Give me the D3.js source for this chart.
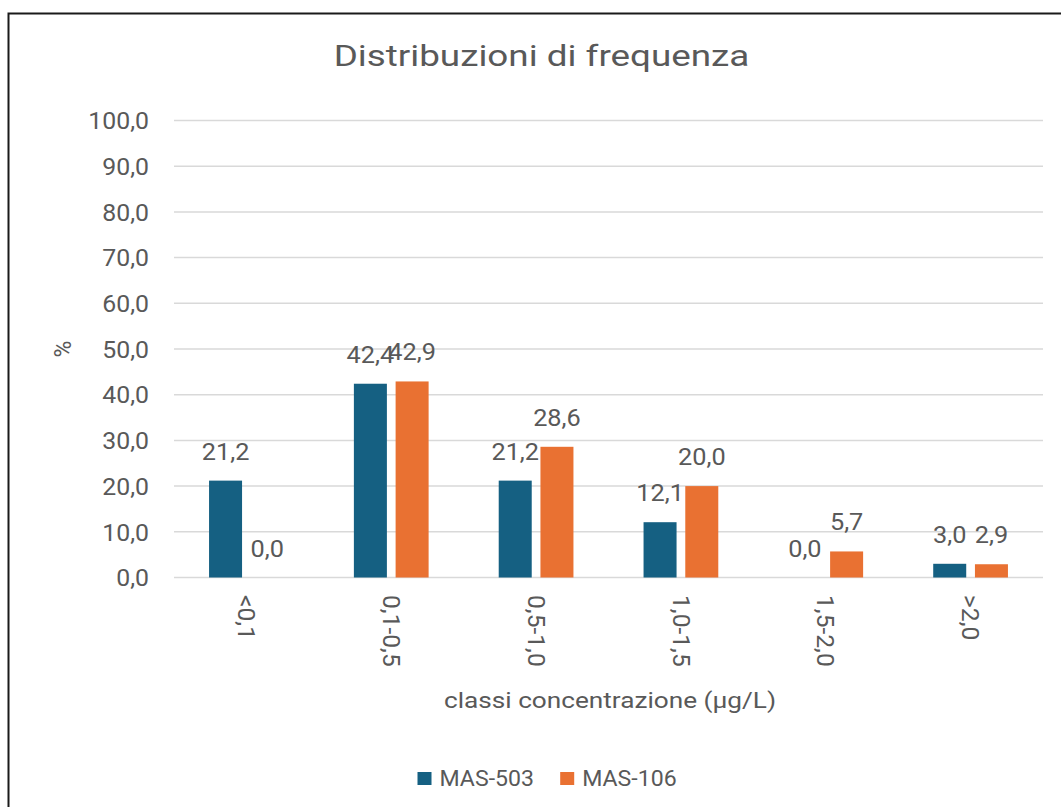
<!DOCTYPE html>
<html>
<head>
<meta charset="utf-8">
<script src="https://cdn.jsdelivr.net/npm/d3@7/dist/d3.min.js"></script>
<style>
  html, body { margin: 0; padding: 0; background: #fff; }
  svg { display: block; }
  text { font-family: Roboto, "Noto Sans", sans-serif; fill: #595959; }
</style>
</head>
<body>
<svg id="chart" width="1061" height="807"></svg>
<script>
// Frequency distribution of concentration classes for two samplers
const categories = ["<0,1", "0,1-0,5", "0,5-1,0", "1,0-1,5", "1,5-2,0", ">2,0"];
const seriesNames = ["MAS-503", "MAS-106"];
const mas503 = [21.2, 42.4, 21.2, 12.1, 0.0, 3.0];
const mas106 = [0.0, 42.9, 28.6, 20.0, 5.7, 2.9];
const yTicks = [0, 10, 20, 30, 40, 50, 60, 70, 80, 90, 100];
const colors = ["#156082", "#E97132"];

const seriesValues = [mas503, mas106];
const fmt = v => v.toFixed(1).replace(".", ",");

const svg = d3.select("#chart");
const W = 1061, H = 807;

svg.append("rect").attr("width", W).attr("height", H).attr("fill", "#fff");

// chart area frame
svg.append("rect")
  .attr("x", 8.5).attr("y", 13.5)
  .attr("width", 1200).attr("height", 1000)
  .attr("fill", "none").attr("stroke", "#1a1a1a").attr("stroke-width", 2);

const plot = { left: 174, right: 1043, top: 120.5, bottom: 577.5 };

const y = d3.scaleLinear().domain([0, 100]).range([plot.bottom, plot.top]);
const x0 = d3.scaleBand().domain(categories)
  .range([plot.left, plot.right])
  .paddingInner(0.484).paddingOuter(0.242);
const x1 = d3.scaleBand().domain(seriesNames)
  .range([0, x0.bandwidth()])
  .paddingInner(0.209);

// horizontal gridlines
svg.append("g").selectAll("line").data(yTicks).join("line")
  .attr("x1", plot.left).attr("x2", plot.right)
  .attr("y1", d => y(d)).attr("y2", d => y(d))
  .attr("stroke", "#d9d9d9").attr("stroke-width", 1.5);

// y axis labels (slightly widened type)
const yAxis = d3.axisLeft(y).tickValues(yTicks).tickFormat(fmt).tickSize(0).tickPadding(0);
const gy = svg.append("g").attr("transform", `translate(149,0)`).call(yAxis);
gy.select(".domain").remove();
gy.selectAll("text")
  .attr("x", 0).attr("dy", "0.36em")
  .attr("transform", "scale(1.08,1)")
  .attr("font-size", 23).attr("fill", "#595959")
  .style("font-family", "Roboto, sans-serif");

// bars
const rows = categories.map((c, i) => ({ c, vals: seriesNames.map((s, j) => ({ s, j, v: seriesValues[j][i] })) }));
const groups = svg.append("g").selectAll("g").data(rows).join("g")
  .attr("transform", d => `translate(${x0(d.c)},0)`);

groups.selectAll("rect").data(d => d.vals).join("rect")
  .attr("x", d => x1(d.s))
  .attr("width", x1.bandwidth())
  .attr("y", d => y(d.v))
  .attr("height", d => y(0) - y(d.v))
  .attr("fill", d => colors[d.j]);

// value labels above each bar
groups.selectAll("text").data(d => d.vals).join("text")
  .attr("transform", d => `translate(${x1(d.s) + x1.bandwidth() / 2},${y(d.v) - 21}) scale(1.1,1)`)
  .attr("text-anchor", "middle")
  .attr("font-size", 23)
  .attr("fill", "#4a4a4a")
  .text(d => fmt(d.v));

// category labels, rotated to read downward
const xAxis = d3.axisBottom(x0).tickSize(0).tickPadding(0);
const gx = svg.append("g").attr("transform", `translate(0,${plot.bottom})`).call(xAxis);
gx.select(".domain").remove();
gx.selectAll("text")
  .attr("transform", "translate(0,17.5) rotate(90) scale(1.07,1)")
  .attr("x", 0).attr("y", 0).attr("dy", "0.36em")
  .attr("text-anchor", "start")
  .attr("font-size", 23).attr("fill", "#595959")
  .style("font-family", "Roboto, sans-serif");

// axis titles
svg.append("text")
  .attr("transform", "translate(610,708) scale(1.19,1)")
  .attr("text-anchor", "middle")
  .attr("font-size", 22)
  .text("classi concentrazione (µg/L)");

svg.append("text")
  .attr("transform", "translate(71,349) rotate(-90)")
  .attr("text-anchor", "middle")
  .attr("font-size", 23)
  .text("%");

// title
svg.append("text")
  .attr("transform", "translate(541.5,66) scale(1.27,1)")
  .attr("text-anchor", "middle")
  .attr("font-size", 29)
  .text("Distribuzioni di frequenza");

// legend
const legend = svg.append("g").attr("transform", "translate(417.5,772)");
const items = legend.selectAll("g").data(seriesNames).join("g")
  .attr("transform", (d, i) => `translate(${i * 142.7},0)`);
items.append("rect").attr("width", 14).attr("height", 13)
  .attr("fill", (d, i) => colors[i]);
items.append("text")
  .attr("transform", "translate(22,6.5) scale(1.05,1)")
  .attr("dy", "0.36em")
  .attr("font-size", 22).text(d => d);
</script>
</body>
</html>
